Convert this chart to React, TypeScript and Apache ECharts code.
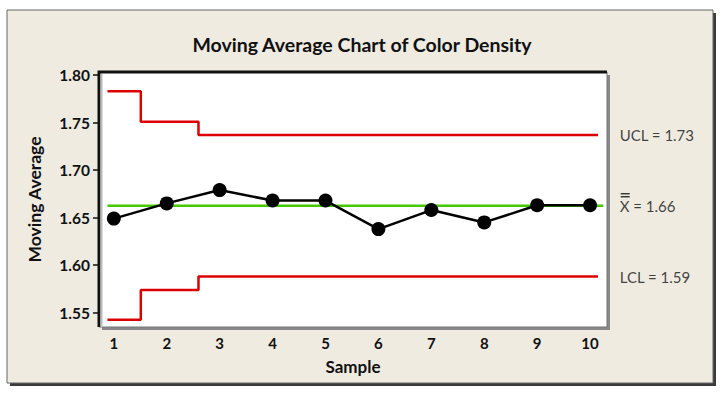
import React, { useEffect, useRef } from "react";
import * as echarts from "echarts";

const samples = [1, 2, 3, 4, 5, 6, 7, 8, 9, 10];
const movingAverage = [1.649, 1.665, 1.679, 1.668, 1.668, 1.638, 1.658, 1.645, 1.663, 1.663];
const centerLine = [[0.88, 1.6625], [10.25, 1.6625]];
const uclSteps = [[0.88, 1.783], [1.51, 1.783], [1.51, 1.751], [2.6, 1.751], [2.6, 1.737], [10.15, 1.737]];
const lclSteps = [[0.88, 1.5425], [1.51, 1.5425], [1.51, 1.574], [2.6, 1.574], [2.6, 1.588], [10.15, 1.588]];
const yTicks = [1.55, 1.6, 1.65, 1.7, 1.75, 1.8];
const limitLabels = ["UCL = 1.73", "X = 1.66", "LCL = 1.59"];
const limitValues = [1.737, 1.6625, 1.588];
const labelX = 10.56;

export default function App() {
  const ref = useRef<HTMLDivElement>(null);
  useEffect(() => {
    document.body.style.margin = "0";
    const chart = echarts.init(ref.current!, null, { renderer: "svg" });
    const font = "Lato, 'Open Sans', sans-serif";
    const gridL = 99, gridT = 72, gridR = 607, gridB = 327;
    const baseGraphic: any[] = [
      { type: "rect", z: -10, shape: { x: 10, y: 13, width: 706, height: 373 }, style: { fill: "#3a3a3a" } },
      { type: "rect", z: -9, shape: { x: 7, y: 10, width: 706, height: 373 }, style: { fill: "#efebe1", stroke: "#666", lineWidth: 1 } },
      { type: "rect", z: -8, shape: { x: gridL + 3, y: gridT + 3, width: gridR - gridL, height: gridB - gridT }, style: { fill: "#888" } },
      { type: "rect", z: -7, shape: { x: gridL, y: gridT, width: gridR - gridL, height: gridB - gridT }, style: { fill: "#ffffff", stroke: "#777", lineWidth: 1 } },
      { type: "polyline", z: 10, shape: { points: [[gridL, gridB], [gridL, gridT], [gridR, gridT]] }, style: { stroke: "#111", lineWidth: 3, fill: null } },
      { type: "line", z: 10, shape: { x1: gridL + 2.5, y1: gridT + 2, x2: gridL + 2.5, y2: gridB }, style: { stroke: "#bbb", lineWidth: 2 } },
    ];
    chart.setOption({
      animation: false,
      backgroundColor: "#ffffff",
      textStyle: { fontFamily: font },
      title: {
        text: "Moving Average Chart of Color Density",
        left: "center",
        top: 29,
        textStyle: { fontSize: 19.5, fontWeight: "bold", color: "#111", fontFamily: font },
      },
      graphic: baseGraphic,
      grid: { left: gridL, top: gridT, width: gridR - gridL, height: gridB - gridT, show: false },
      xAxis: {
        type: "value",
        min: 0.72,
        max: 10.32,
        name: "Sample",
        nameLocation: "middle",
        nameGap: 31,
        nameTextStyle: { fontSize: 17, fontWeight: "bold", color: "#111", fontFamily: font },
        axisLine: { show: false },
        axisTick: { show: false },
        splitLine: { show: false },
        axisLabel: {
          customValues: samples,
          margin: 8,
          fontSize: 15,
          fontWeight: "bold",
          color: "#111",
          fontFamily: font,
        },
      },
      yAxis: {
        type: "value",
        min: 1.535,
        max: 1.8032,
        name: "Moving Average",
        nameLocation: "middle",
        nameGap: 56,
        nameTextStyle: { fontSize: 17.5, fontWeight: "bold", color: "#111", fontFamily: font },
        axisLine: { show: false },
        splitLine: { show: false },
        axisTick: { show: true, customValues: yTicks, length: 6, inside: false, lineStyle: { color: "#111", width: 1.5 } },
        axisLabel: {
          customValues: yTicks,
          margin: 9,
          fontSize: 15.5,
          fontWeight: "bold",
          color: "#111",
          fontFamily: font,
          formatter: (v: number) => v.toFixed(2),
        },
      },
      series: [
        {
          type: "line",
          data: centerLine,
          symbol: "none",
          lineStyle: { color: "#44c800", width: 2.5 },
          z: 2,
          silent: true,
        },
        {
          type: "line",
          data: uclSteps,
          symbol: "none",
          lineStyle: { color: "#dd0000", width: 2.5 },
          z: 2,
        },
        {
          type: "line",
          data: lclSteps,
          symbol: "none",
          lineStyle: { color: "#dd0000", width: 2.5 },
          z: 2,
        },
        {
          type: "line",
          data: samples.map((s, i) => [s, movingAverage[i]]),
          symbol: "circle",
          symbolSize: 14,
          itemStyle: { color: "#000" },
          lineStyle: { color: "#000", width: 2.5 },
          z: 3,
        },
        {
          type: "scatter",
          data: limitValues.map((v, i) => ({ value: [labelX, v], label: { formatter: limitLabels[i] } })),
          symbolSize: 0,
          clip: false,
          label: {
            show: true,
            position: "right",
            distance: 0,
            fontSize: 15,
            color: "#111",
            fontFamily: font,
          },
          z: 4,
        },
      ],
    });
    const p = chart.convertToPixel({ gridIndex: 0 }, [labelX, limitValues[1]]) as number[];
    const bx = p[0] + 1, by = p[1];
    chart.setOption({
      graphic: [
        ...baseGraphic,
        { type: "line", z: 20, shape: { x1: bx, y1: by - 12, x2: bx + 9, y2: by - 12 }, style: { stroke: "#111", lineWidth: 1.2 } },
        { type: "line", z: 20, shape: { x1: bx, y1: by - 9, x2: bx + 9, y2: by - 9 }, style: { stroke: "#111", lineWidth: 1.2 } },
      ],
    });
    return () => chart.dispose();
  }, []);
  return <div ref={ref} style={{ position: "absolute", left: 0, top: 0, width: 724, height: 396 }} />;
}
